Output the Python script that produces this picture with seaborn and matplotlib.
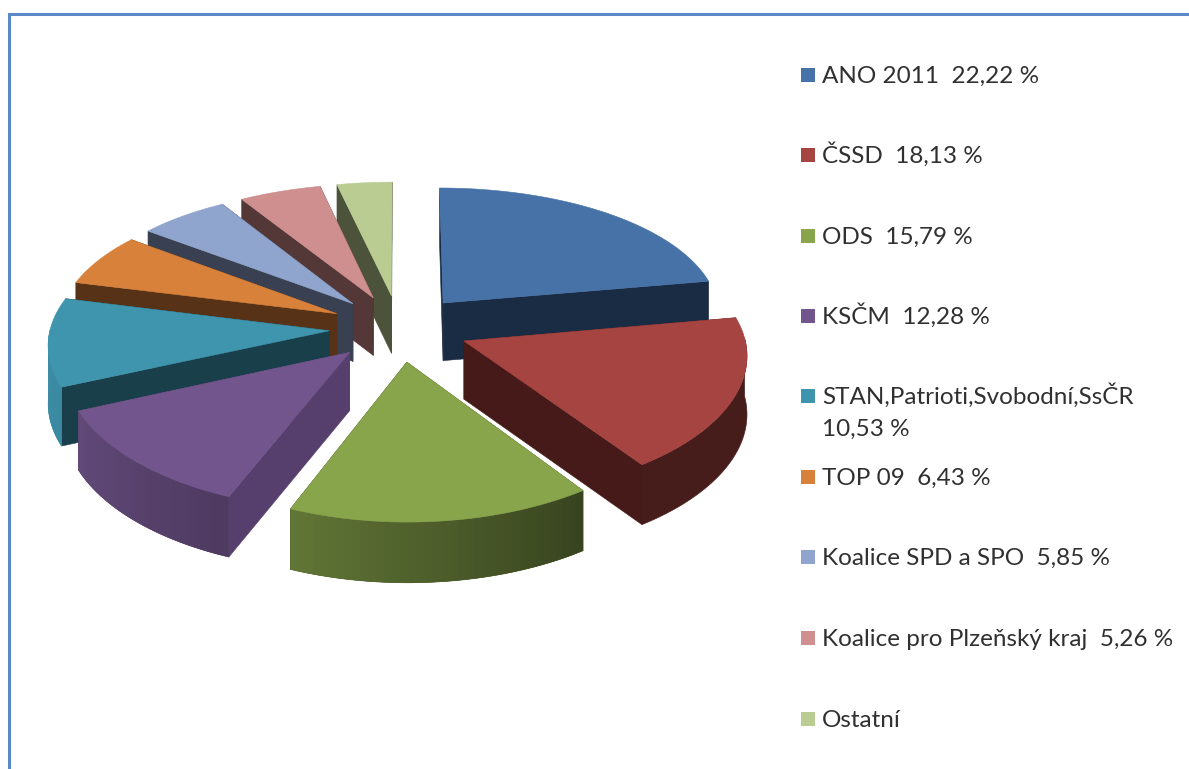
import matplotlib

matplotlib.use("Agg")
import matplotlib.colors as mcolors
import matplotlib.pyplot as plt
import numpy as np
import seaborn as sns

parties = ["ANO 2011", "ČSSD", "ODS", "KSČM", "STAN,Patrioti,Svobodní,SsČR", "TOP 09",
           "Koalice SPD a SPO", "Koalice pro Plzeňský kraj", "Ostatní"]
shares = [22.22, 18.13, 15.79, 12.28, 10.53, 6.43, 5.85, 5.26, 3.51]
share_labels = ["22,22 %", "18,13 %", "15,79 %", "12,28 %", "10,53 %", "6,43 %", "5,85 %", "5,26 %", ""]
top_colors = ["#4672a8", "#a64441", "#88a54c", "#71558c", "#3f94ae",
              "#d7813a", "#8fa5cd", "#cf8f8f", "#bacc92"]
cut_colors = ["#1a2c44", "#451a18", "#384219", "#563f6c", "#193f4a",
              "#573216", "#394052", "#543838", "#4c533a"]
# brightness of the rim at the start and the end of each slice
rim_start = [0.42, 0.42, 0.41, 0.69, 0.93, 0.40, 0.42, 0.42, 0.42]
rim_end = [0.42, 0.42, 0.72, 0.87, 0.97, 0.40, 0.42, 0.42, 0.42]
draw_order = [8, 7, 6, 5, 4, 0, 1, 3, 2]

sns.set_theme(style="white")
plt.rcParams["font.family"] = ["Lato", "DejaVu Sans"]
palette = sns.color_palette(top_colors)

CX, CY = 399, 328
RX, RY = 279, 133.4
PERSP_X, PERSP_Y = 0.088, 0.1136
EXPLODE = 0.25
DEPTH = 58


def project(x, v, z=0.0):
    # v grows towards the viewer, z is the drop below the top face
    sx = 1 / (1 - PERSP_X * v)
    sy = 1 / (1 - PERSP_Y * v)
    return CX + RX * sx * x, CY + RY * sy * v + DEPTH * z * sy ** 0.3


fig = plt.figure(figsize=(11.89, 7.69), dpi=100)
ax = fig.add_axes([0, 0, 1, 1])
ax.set_xlim(0, 1189)
ax.set_ylim(769, 0)
ax.axis("off")

ax.plot([9, 9, 1189], [769, 14, 14], color="#5b88c6", lw=2.2, solid_joinstyle="miter")

edges = np.concatenate([[0], np.cumsum(shares)]) / sum(shares) * 2 * np.pi
for i in draw_order:
    a0, a1 = edges[i], edges[i + 1]
    mid = (a0 + a1) / 2
    ox, ov = EXPLODE * np.sin(mid), -EXPLODE * np.cos(mid)
    angles = np.linspace(a0, a1, max(int((a1 - a0) * 40), 6))
    arc_x = ox + np.sin(angles)
    arc_v = ov - np.cos(angles)

    # the cut faces first, the top face hides the one turned away
    for a in (a0, a1):
        fx = np.array([ox, ox + np.sin(a), ox + np.sin(a), ox])
        fv = np.array([ov, ov - np.cos(a), ov - np.cos(a), ov])
        px, py = project(fx, fv, np.array([0, 0, 1, 1]))
        ax.fill(px, py, color=cut_colors[i], lw=0.4)

    # rim only where it faces the viewer
    front = np.cos(angles) < 0.02
    if front.sum() > 1:
        rx, rv = arc_x[front], arc_v[front]
        ts = np.linspace(0, 1, len(angles))[front]
        bright = rim_start[i] + (rim_end[i] - rim_start[i]) * ts
        rgb = np.array(mcolors.to_rgb(palette[i]))
        px, py = project(np.concatenate([rx, rx[::-1]]), np.concatenate([rv, rv[::-1]]),
                         np.concatenate([np.zeros(len(rx)), np.ones(len(rx))]))
        ax.fill(px, py, color=tuple(rgb * bright.mean()), lw=0.4)
        if rim_start[i] != rim_end[i]:
            # each strip runs on under the next one so no seam shows
            for k in range(len(rx) - 1):
                e = min(k + 2, len(rx) - 1)
                px, py = project(rx[[k, e, e, k]], rv[[k, e, e, k]], np.array([0, 0, 1, 1]))
                ax.fill(px, py, facecolor=tuple(rgb * bright[k]), edgecolor="none", lw=0)

    tx, ty = project(np.concatenate([[ox], arc_x]), np.concatenate([[ov], arc_v]))
    ax.fill(tx, ty, color=palette[i], lw=0.4)

legend_y = [75, 155, 236, 316, 396, 477, 557, 638, 719]
for i, (party, label, y) in enumerate(zip(parties, share_labels, legend_y)):
    ax.scatter([808], [y], marker="s", s=100, color=palette[i], linewidths=0)
    style = dict(va="baseline", ha="left", fontsize=17.5, color="#303030")
    if i == 4:
        ax.text(822, y + 8, party, **style)
        ax.text(822, y + 40, label, **style)
    elif label:
        ax.text(822, y + 8, f"{party}  {label}", **style)
    else:
        ax.text(822, y + 8, party, **style)

fig.savefig("out.png", dpi=100)
